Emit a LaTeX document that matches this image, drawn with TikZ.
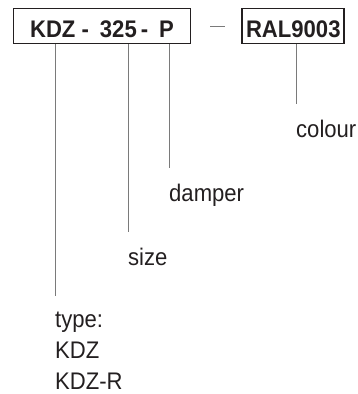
\documentclass[tikz,border=0pt]{standalone}
\usepackage{fontspec}
\setmainfont{Liberation Sans}
\newfontfamily\narrowsans[FakeStretch=0.92]{Liberation Sans}
\usetikzlibrary{positioning}
\definecolor{inkdark}{HTML}{231F20}
\definecolor{leadgray}{HTML}{7A7A7A}

\begin{document}
\begin{tikzpicture}[x=1pt, y=-1pt,
  codebox/.style={draw=inkdark, line width=1.8pt, minimum height=35pt, inner sep=0pt, text height=22.5pt, text depth=0pt, font=\narrowsans\fontsize{24}{28}\selectfont\bfseries, text=inkdark},
  lbl/.style={anchor=north west, inner sep=0pt, align=left, font=\narrowsans\fontsize{24}{31}\selectfont, text=inkdark},
  lead/.style={leadgray, line width=0.8pt, shorten >=16pt}
]
  \useasboundingbox (0,0) rectangle (358,394);
  \node[codebox, minimum width=177pt] (code) at (102,26) {KDZ -\hspace{11pt}325\hspace{4pt}-\hspace{11pt}P};
  \node[codebox, minimum width=102pt, right=50pt of code] (ral) {RAL9003};
  \node[lbl] (colour) at (296,120) {colour};
  \node[lbl] (damper) at (169,184) {damper};
  \node[lbl] (size) at (128,248) {size};
  \node[lbl] (type) at (55,312) {type:\\KDZ\\KDZ-R};
  \draw[lead, shorten <=19pt, shorten >=16pt] (code.east) -- (ral.west);
  \draw[lead] (colour.north west |- ral.south) -- (colour.north west);
  \draw[lead] (damper.north west |- code.south) -- (damper.north west);
  \draw[lead] (size.north west |- code.south) -- (size.north west);
  \draw[lead] (type.north west |- code.south) -- (type.north west);
\end{tikzpicture}
\end{document}
